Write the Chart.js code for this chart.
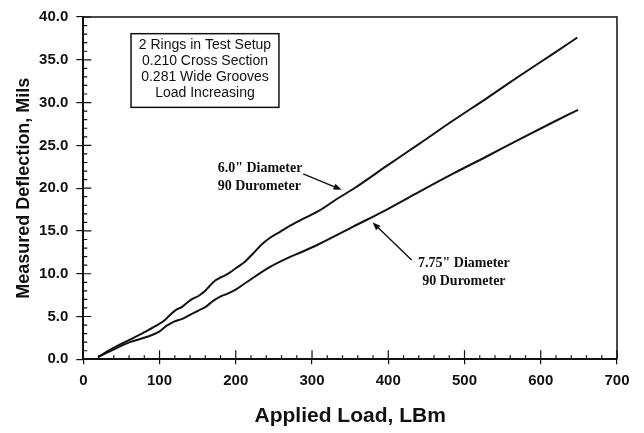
<!DOCTYPE html>
<html>
<head>
<meta charset="utf-8">
<script src="https://cdn.jsdelivr.net/npm/chart.js@4.4.0/dist/chart.umd.min.js"></script>
<style>
  html, body { margin: 0; padding: 0; background: #ffffff; }
  #wrap { width: 644px; height: 433px; }
</style>
</head>
<body>
<div id="wrap"><canvas id="c" width="644" height="433"></canvas></div>
<script>
// ---- data ----
const seriesNames = ['6.0" Diameter, 90 Durometer', '7.75" Diameter, 90 Durometer'];

const load60 = [20, 39, 61, 83, 99, 107, 115, 122, 129, 136, 142, 151, 160, 166, 173, 181, 190, 201, 212, 223, 235, 245, 258, 267, 288, 310, 332, 354, 398, 441, 485, 529, 572, 616, 648];
const defl60 = [0.3, 1.3, 2.3, 3.3, 4.1, 4.6, 5.3, 5.8, 6.1, 6.6, 7.0, 7.4, 8.0, 8.6, 9.2, 9.6, 10.0, 10.7, 11.4, 12.4, 13.5, 14.2, 14.9, 15.4, 16.4, 17.4, 18.7, 19.9, 22.6, 25.2, 27.9, 30.5, 33.1, 35.7, 37.6];

const load775 = [20, 39, 61, 83, 99, 109, 119, 129, 140, 151, 160, 170, 179, 190, 201, 214, 245, 267, 288, 310, 354, 398, 441, 485, 529, 572, 616, 649];
const defl775 = [0.3, 1.1, 2.0, 2.6, 3.2, 3.9, 4.4, 4.7, 5.2, 5.7, 6.1, 6.8, 7.3, 7.7, 8.2, 9.0, 10.8, 11.8, 12.6, 13.5, 15.5, 17.5, 19.6, 21.7, 23.7, 25.7, 27.7, 29.15];

const xTickLabels = ['0', '100', '200', '300', '400', '500', '600', '700'];
const yTickLabels = ['0.0', '5.0', '10.0', '15.0', '20.0', '25.0', '30.0', '35.0', '40.0'];

const infoLines = ['2 Rings in Test Setup', '0.210 Cross Section', '0.281 Wide Grooves', 'Load Increasing'];
const label60 = ['6.0" Diameter', '90 Durometer'];
const label775 = ['7.75" Diameter', '90 Durometer'];

// ---- build datasets ----
const pts = (xs, ys) => xs.map((x, i) => ({ x: x, y: ys[i] }));

const SANS = "'Liberation Sans', Arial, Helvetica, sans-serif";
const SERIF = "'Liberation Serif', 'Times New Roman', serif";

// custom decorations: frame, inner ticks, info box, callouts
const decor = {
  id: 'decor',
  afterDraw(chart) {
    const ctx = chart.ctx;
    const xs = chart.scales.x, ys = chart.scales.y;
    const ca = chart.chartArea;
    ctx.save();
    // frame (top & right)
    ctx.strokeStyle = '#111';
    ctx.lineWidth = 1.5;
    ctx.beginPath();
    ctx.moveTo(ca.left, ca.top);
    ctx.lineTo(ca.right, ca.top);
    ctx.lineTo(ca.right, ca.bottom);
    ctx.stroke();

    // inner ticks
    ctx.lineWidth = 1.2;
    ctx.beginPath();
    for (let v = 0; v <= 40; v += 1) {
      const py = ys.getPixelForValue(v);
      const len = (v % 5 === 0) ? 8 : 4;
      ctx.moveTo(ca.left, py);
      ctx.lineTo(ca.left + len, py);
    }
    for (let v = 0; v <= 700; v += 20) {
      const px = xs.getPixelForValue(v);
      const len = (v % 100 === 0) ? 9 : 4;
      ctx.moveTo(px, ca.bottom);
      ctx.lineTo(px, ca.bottom - len);
    }
    ctx.stroke();

    // info box
    const bx0 = xs.getPixelForValue(62.6), bx1 = xs.getPixelForValue(256.6);
    const by0 = ys.getPixelForValue(38.05), by1 = ys.getPixelForValue(29.44);
    ctx.lineWidth = 1.5;
    ctx.strokeStyle = '#111';
    ctx.strokeRect(bx0, by0, bx1 - bx0, by1 - by0);
    ctx.fillStyle = '#111';
    ctx.font = "14px " + SANS;
    ctx.textAlign = 'center';
    ctx.textBaseline = 'middle';
    const lineY = [36.67, 34.83, 33.03, 31.12];
    infoLines.forEach((t, i) => ctx.fillText(t, (bx0 + bx1) / 2, ys.getPixelForValue(lineY[i])));

    // callouts
    ctx.font = "bold 14px " + SERIF;
    ctx.textAlign = 'left';
    ctx.fillText(label60[0], xs.getPixelForValue(176.2), ys.getPixelForValue(22.31));
    ctx.fillText(label60[1], xs.getPixelForValue(176.2), ys.getPixelForValue(20.21));
    ctx.textAlign = 'center';
    ctx.fillText(label775[0], xs.getPixelForValue(499.2), ys.getPixelForValue(11.21));
    ctx.fillText(label775[1], xs.getPixelForValue(499.2), ys.getPixelForValue(9.11));

    const arrow = (x0, y0, x1, y1) => {
      const p0x = xs.getPixelForValue(x0), p0y = ys.getPixelForValue(y0);
      const p1x = xs.getPixelForValue(x1), p1y = ys.getPixelForValue(y1);
      const a = Math.atan2(p1y - p0y, p1x - p0x);
      ctx.lineWidth = 1.4;
      ctx.beginPath();
      ctx.moveTo(p0x, p0y);
      ctx.lineTo(p1x - 5 * Math.cos(a), p1y - 5 * Math.sin(a));
      ctx.stroke();
      const L = 8, W = 3.2;
      ctx.beginPath();
      ctx.moveTo(p1x, p1y);
      ctx.lineTo(p1x - L * Math.cos(a) + W * Math.sin(a), p1y - L * Math.sin(a) - W * Math.cos(a));
      ctx.lineTo(p1x - L * Math.cos(a) - W * Math.sin(a), p1y - L * Math.sin(a) + W * Math.cos(a));
      ctx.closePath();
      ctx.fill();
    };
    arrow(288.4, 21.66, 338.8, 19.82);
    arrow(430.6, 11.6, 379.4, 16.0);
    ctx.restore();
  }
};

new Chart(document.getElementById('c'), {
  type: 'line',
  data: {
    datasets: [
      { label: seriesNames[0], data: pts(load60, defl60), borderColor: '#111', borderWidth: 2, pointRadius: 0, cubicInterpolationMode: 'monotone', fill: false },
      { label: seriesNames[1], data: pts(load775, defl775), borderColor: '#111', borderWidth: 2, pointRadius: 0, cubicInterpolationMode: 'monotone', fill: false }
    ]
  },
  options: {
    responsive: false,
    animation: false,
    devicePixelRatio: 1,
    layout: { padding: { left: 0, top: 11, right: 27, bottom: 0 } },
    plugins: { legend: { display: false }, tooltip: { enabled: false }, title: { display: false } },
    scales: {
      x: {
        type: 'linear', min: 0, max: 700,
        afterFit: s => { s.height = 73.7; },
        ticks: {
          stepSize: 100, padding: 8, color: '#111',
          font: { family: SANS, size: 15, weight: 'bold' },
          callback: (v) => xTickLabels[Math.round(v / 100)] ?? ''
        },
        grid: { display: true, drawOnChartArea: false, drawTicks: true, tickLength: 5, color: '#111', lineWidth: 1.2 },
        border: { display: true, color: '#111', width: 2 },
        title: { display: true, text: 'Applied Load, LBm', color: '#111', font: { family: SANS, size: 21, weight: 'bold', lineHeight: 1 }, padding: { top: 0, bottom: 6 } }
      },
      y: {
        type: 'linear', min: 0, max: 40,
        afterFit: s => { s.width = 83.3; },
        ticks: {
          stepSize: 5, padding: 8, color: '#111',
          font: { family: SANS, size: 15, weight: 'bold' },
          callback: (v) => yTickLabels[Math.round(v / 5)] ?? ''
        },
        grid: { display: true, drawOnChartArea: false, drawTicks: true, tickLength: 7, color: '#111', lineWidth: 1.2 },
        border: { display: true, color: '#111', width: 2 },
        title: { display: true, text: 'Measured Deflection, Mils', color: '#111', font: { family: SANS, size: 18, weight: 'bold', lineHeight: 1 }, padding: { top: 15, bottom: 0 } }
      }
    }
  },
  plugins: [decor]
});
</script>
</body>
</html>
